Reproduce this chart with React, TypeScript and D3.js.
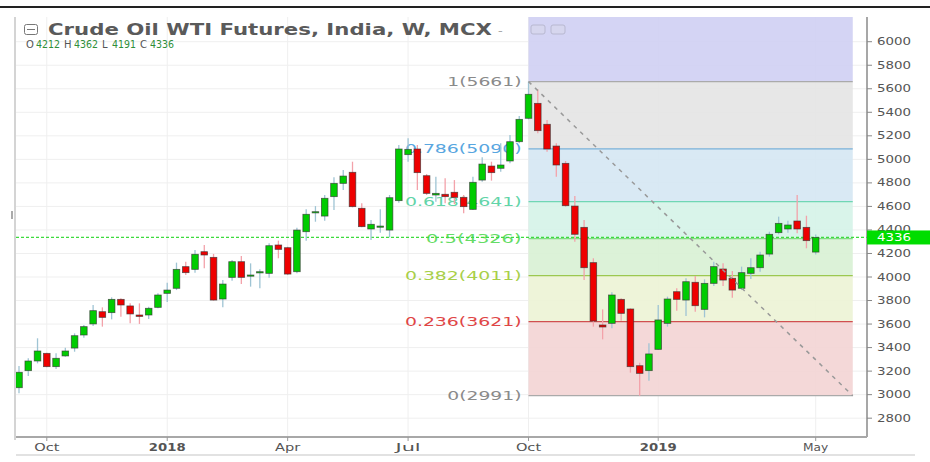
import React from 'react';
import * as d3 from 'd3';

// ---- data ----
const firstWeek = new Date(2017, 8, 11);
const opens = [3059,3204,3286,3351,3238,3329,3396,3507,3601,3705,3697,3810,3754,3677,3677,3742,3861,3904,4088,4065,4215,4167,3813,3997,4130,4008,4037,4031,4272,4249,4045,4385,4547,4518,4683,4796,4890,4584,4408,4425,4399,4649,5040,5088,4861,4697,4703,4720,4677,4575,4824,4943,4924,4986,5150,5349,5476,5298,5113,4966,4603,4422,4122,3592,3606,3810,3728,3246,3204,3385,3606,3875,3804,3955,3725,3946,4068,3989,3904,4031,4079,4195,4377,4408,4476,4422,4212];
const highs = [3244,3309,3479,3357,3351,3399,3521,3592,3762,3742,3827,3819,3776,3776,3748,3861,3952,4122,4130,4230,4272,4196,3974,4144,4178,4116,4065,4286,4309,4258,4419,4575,4603,4697,4847,4909,4980,4626,4484,4575,4697,5122,5179,5122,4875,4853,4839,4824,4697,4853,5017,4980,5136,5207,5368,5661,5595,5334,5136,4986,4688,4484,4159,3725,3870,3819,3734,3272,3436,3762,3833,3904,3989,4008,3980,4130,4116,4051,4088,4159,4215,4385,4513,4479,4697,4521,4362];
const lows = [3011,3159,3266,3232,3218,3323,3365,3484,3583,3578,3640,3663,3606,3601,3643,3734,3788,3889,4017,4037,4074,3799,3742,3969,3940,3918,3904,3994,4159,4017,4031,4309,4470,4479,4570,4739,4592,4422,4314,4377,4337,4632,4980,4739,4697,4640,4626,4620,4541,4569,4810,4819,4895,4966,5136,5340,5221,5065,4853,4598,4300,3974,3578,3470,3564,3629,3187,2991,3119,3380,3578,3714,3668,3705,3657,3923,3923,3824,3889,3983,4045,4173,4363,4377,4371,4244,4191];
const closes = [3190,3286,3371,3238,3309,3371,3501,3578,3714,3657,3810,3762,3686,3665,3734,3847,3889,4065,4037,4193,4187,3804,3940,4130,3997,4017,4045,4266,4235,4025,4399,4533,4555,4669,4796,4858,4598,4428,4448,4433,4674,5088,5085,4887,4711,4711,4683,4677,4598,4805,4960,4887,4952,5150,5340,5553,5244,5088,4952,4606,4363,4079,3626,3575,3847,3691,3238,3181,3346,3635,3813,3810,3960,3756,3946,4088,3974,3889,4037,4079,4187,4363,4456,4442,4408,4309,4336];

const priceTicks = [2800,3000,3200,3400,3600,3800,4000,4200,4400,4600,4800,5000,5200,5400,5600,5800,6000];
const xTickDates = [new Date(2017,9,2), new Date(2018,0,1), new Date(2018,3,2), new Date(2018,6,2), new Date(2018,9,1), new Date(2019,0,7), new Date(2019,4,6)];
const xTickLabels = ['Oct','2018','Apr','Jul','Oct','2019','May'];
const xTickBold = [false,true,false,false,false,true,false];

const fibHigh = 5661;
const fibLow = 2991;
const fibLevels = [0,0.236,0.382,0.5,0.618,0.786,1];
const fibLineColors = ['#aaaaaa','#d05050','#9cc850','#80dc80','#70d6b4','#78b0d8','#aaaaaa'];
const fibTextColors = ['#8a8a8a','#e04545','#a8cf48','#66dc66','#62d4a8','#58a6e0','#8a8a8a'];
const fibFills = ['#f3d4d4','#ecf3d5','#d8f1d4','#d5f3e8','#d5e7f3','#e4e4e4','#cfcff3'];
const fibStartDate = new Date(2018,9,1);
const fibEndDate = new Date(2019,5,3);

const lastPrice = 4336;
const titleText = 'Crude Oil WTI Futures, India, W, MCX';
const ohlcLabels = ['O','H','L','C'];
const ohlcValues = ['4212','4362','4191','4336'];

const W = 930, H = 462;
const plotL = 16, plotR = 867, plotT = 17, plotB = 437;

export default function App() {
  const dates = opens.map((_, i) => d3.timeDay.offset(firstWeek, 7 * i));
  const x = d3.scaleTime().domain([dates[0], dates[dates.length - 1]]).range([19, 815.7]);
  const y = d3.scaleLinear().domain([2640, 6210]).range([plotB, plotT]);
  const fx0 = x(fibStartDate);
  const fx1 = x(fibEndDate);
  const fibVals = fibLevels.map(l => fibLow + l * (fibHigh - fibLow));
  const bw = 6.6;
  const font = "'DejaVu Sans', Verdana, sans-serif";

  const ohlcX = [26, 64, 102, 140];

  return (
    <svg width={W} height={H} style={{ position: 'absolute', left: 0, top: 0, background: '#fff' }}>
      <defs>
        <clipPath id="plot"><rect x={plotL} y={plotT} width={plotR - plotL} height={plotB - plotT} /></clipPath>
      </defs>
      {/* top border */}
      <line x1={0} x2={W} y1={7} y2={7} stroke="#222" strokeWidth={2} />
      <g clipPath="url(#plot)">
        {/* grid */}
        {priceTicks.map(t => (
          <line key={'hg' + t} x1={plotL} x2={plotR} y1={y(t)} y2={y(t)} stroke="#efefef" strokeWidth={1} />
        ))}
        {xTickDates.map((d, i) => (
          <line key={'vg' + i} x1={x(d)} x2={x(d)} y1={plotT} y2={plotB} stroke="#efefef" strokeWidth={1} />
        ))}
        {/* fib regions */}
        {fibVals.map((v, i) => {
          const top = i < fibVals.length - 1 ? y(fibVals[i + 1]) : plotT;
          return <rect key={'fr' + i} x={fx0} y={top} width={fx1 - fx0} height={y(v) - top} fill={fibFills[i]} opacity={0.9} />;
        })}
        {fibVals.map((v, i) => (
          <line key={'fl' + i} x1={fx0} x2={fx1} y1={y(v)} y2={y(v)} stroke={fibLineColors[i]} strokeWidth={1.3} />
        ))}
        {fibVals.map((v, i) => {
          const label = `${fibLevels[i]}(${Math.round(v)})`;
          return (
            <text key={'ft' + i} x={fx0 - 7} y={y(v)} textAnchor="end" dominantBaseline="central"
              fontFamily={font} fontSize={12.5} fill={fibTextColors[i]}
              textLength={label.length * 10.6} lengthAdjust="spacingAndGlyphs">{label}</text>
          );
        })}
        {/* last price dotted line */}
        <line x1={plotL} x2={plotR} y1={y(lastPrice)} y2={y(lastPrice)} stroke="#3ddc3d" strokeWidth={1.3} strokeDasharray="3,2" />
        {/* candles */}
        {dates.map((d, i) => {
          const up = closes[i] >= opens[i];
          const cx = x(d);
          const top = y(Math.max(opens[i], closes[i]));
          const bot = y(Math.min(opens[i], closes[i]));
          return (
            <g key={'c' + i}>
              <line x1={cx} x2={cx} y1={y(highs[i])} y2={y(lows[i])} stroke={up ? '#9fc4d4' : '#f3a2aa'} strokeWidth={1.3} />
              <rect x={cx - bw / 2} y={top} width={bw} height={Math.max(1.2, bot - top)}
                fill={up ? '#00cc00' : '#ee0000'} stroke="#333" strokeOpacity={0.75} strokeWidth={0.8} />
            </g>
          );
        })}
        {/* trend line */}
        <line x1={fx0} y1={y(fibHigh)} x2={fx1} y2={y(fibLow)} stroke="#999" strokeWidth={1.5} strokeDasharray="4,5" />
      </g>
      {/* left border */}
      <line x1={15} x2={15} y1={plotT} y2={plotB + 3} stroke="#d4d4d4" strokeWidth={2} />
      <rect x={11} y={211} width={2} height={8} fill="#aaa" />
      {/* axes */}
      <line x1={plotR} x2={plotR} y1={plotT} y2={plotB} stroke="#8a8a8a" strokeWidth={1.5} />
      <line x1={plotL} x2={plotR} y1={plotB} y2={plotB} stroke="#a8a8a8" strokeWidth={2} />
      <line x1={plotL} x2={915} y1={455} y2={455} stroke="#e2e2e2" strokeWidth={2} />
      {priceTicks.map(t => (
        <g key={'yt' + t}>
          <line x1={plotR} x2={plotR + 5} y1={y(t)} y2={y(t)} stroke="#888" />
          <text x={877} y={y(t)} dominantBaseline="central" fontFamily={font} fontSize={11} fill="#555"
            textLength={34} lengthAdjust="spacingAndGlyphs">{t}</text>
        </g>
      ))}
      {xTickDates.map((d, i) => (
        <g key={'xt' + i}>
          <line x1={x(d)} x2={x(d)} y1={plotB} y2={plotB + 4} stroke="#999" />
          <text x={x(d)} y={447} textAnchor="middle" dominantBaseline="central" fontFamily={font} fontSize={11}
            fontWeight={xTickBold[i] ? 'bold' : 'normal'} fill="#555"
            textLength={xTickLabels[i].length * (xTickBold[i] ? 9.2 : 8.4)} lengthAdjust="spacingAndGlyphs">{xTickLabels[i]}</text>
        </g>
      ))}
      {/* last price label */}
      <rect x={plotR} y={y(lastPrice) - 7} width={W - plotR} height={14} fill="#00dd00" />
      <text x={877} y={y(lastPrice)} dominantBaseline="central" fontFamily={font} fontSize={11} fill="#fff"
        textLength={34} lengthAdjust="spacingAndGlyphs">{lastPrice}</text>
      {/* header */}
      <rect x={24.5} y={24.5} width={13} height={10} rx={2} fill="none" stroke="#777" strokeWidth={1} />
      <line x1={27} x2={35} y1={29.5} y2={29.5} stroke="#777" strokeWidth={1} />
      <text x={48} y={30} dominantBaseline="central" fontFamily={font} fontSize={15} fontWeight="bold" fill="#5a5a5a"
        textLength={444} lengthAdjust="spacingAndGlyphs">{titleText}</text>
      <text x={498} y={30} dominantBaseline="central" fontFamily={font} fontSize={13} fill="#aaa">-</text>
      <rect x={531} y={25} width={14} height={9} rx={2} fill="#d6d6ee" stroke="#b8b8d0" />
      <rect x={551} y={25} width={14} height={9} rx={2} fill="#d6d6ee" stroke="#b8b8d0" />
      {ohlcLabels.map((l, i) => (
        <g key={'oh' + i}>
          <text x={ohlcX[i]} y={44} dominantBaseline="central" fontFamily={font} fontSize={10} fill="#555">{l}</text>
          <text x={ohlcX[i] + 10} y={44} dominantBaseline="central" fontFamily={font} fontSize={10} fill="#2f8f3a"
            textLength={24} lengthAdjust="spacingAndGlyphs">{ohlcValues[i]}</text>
        </g>
      ))}
    </svg>
  );
}
